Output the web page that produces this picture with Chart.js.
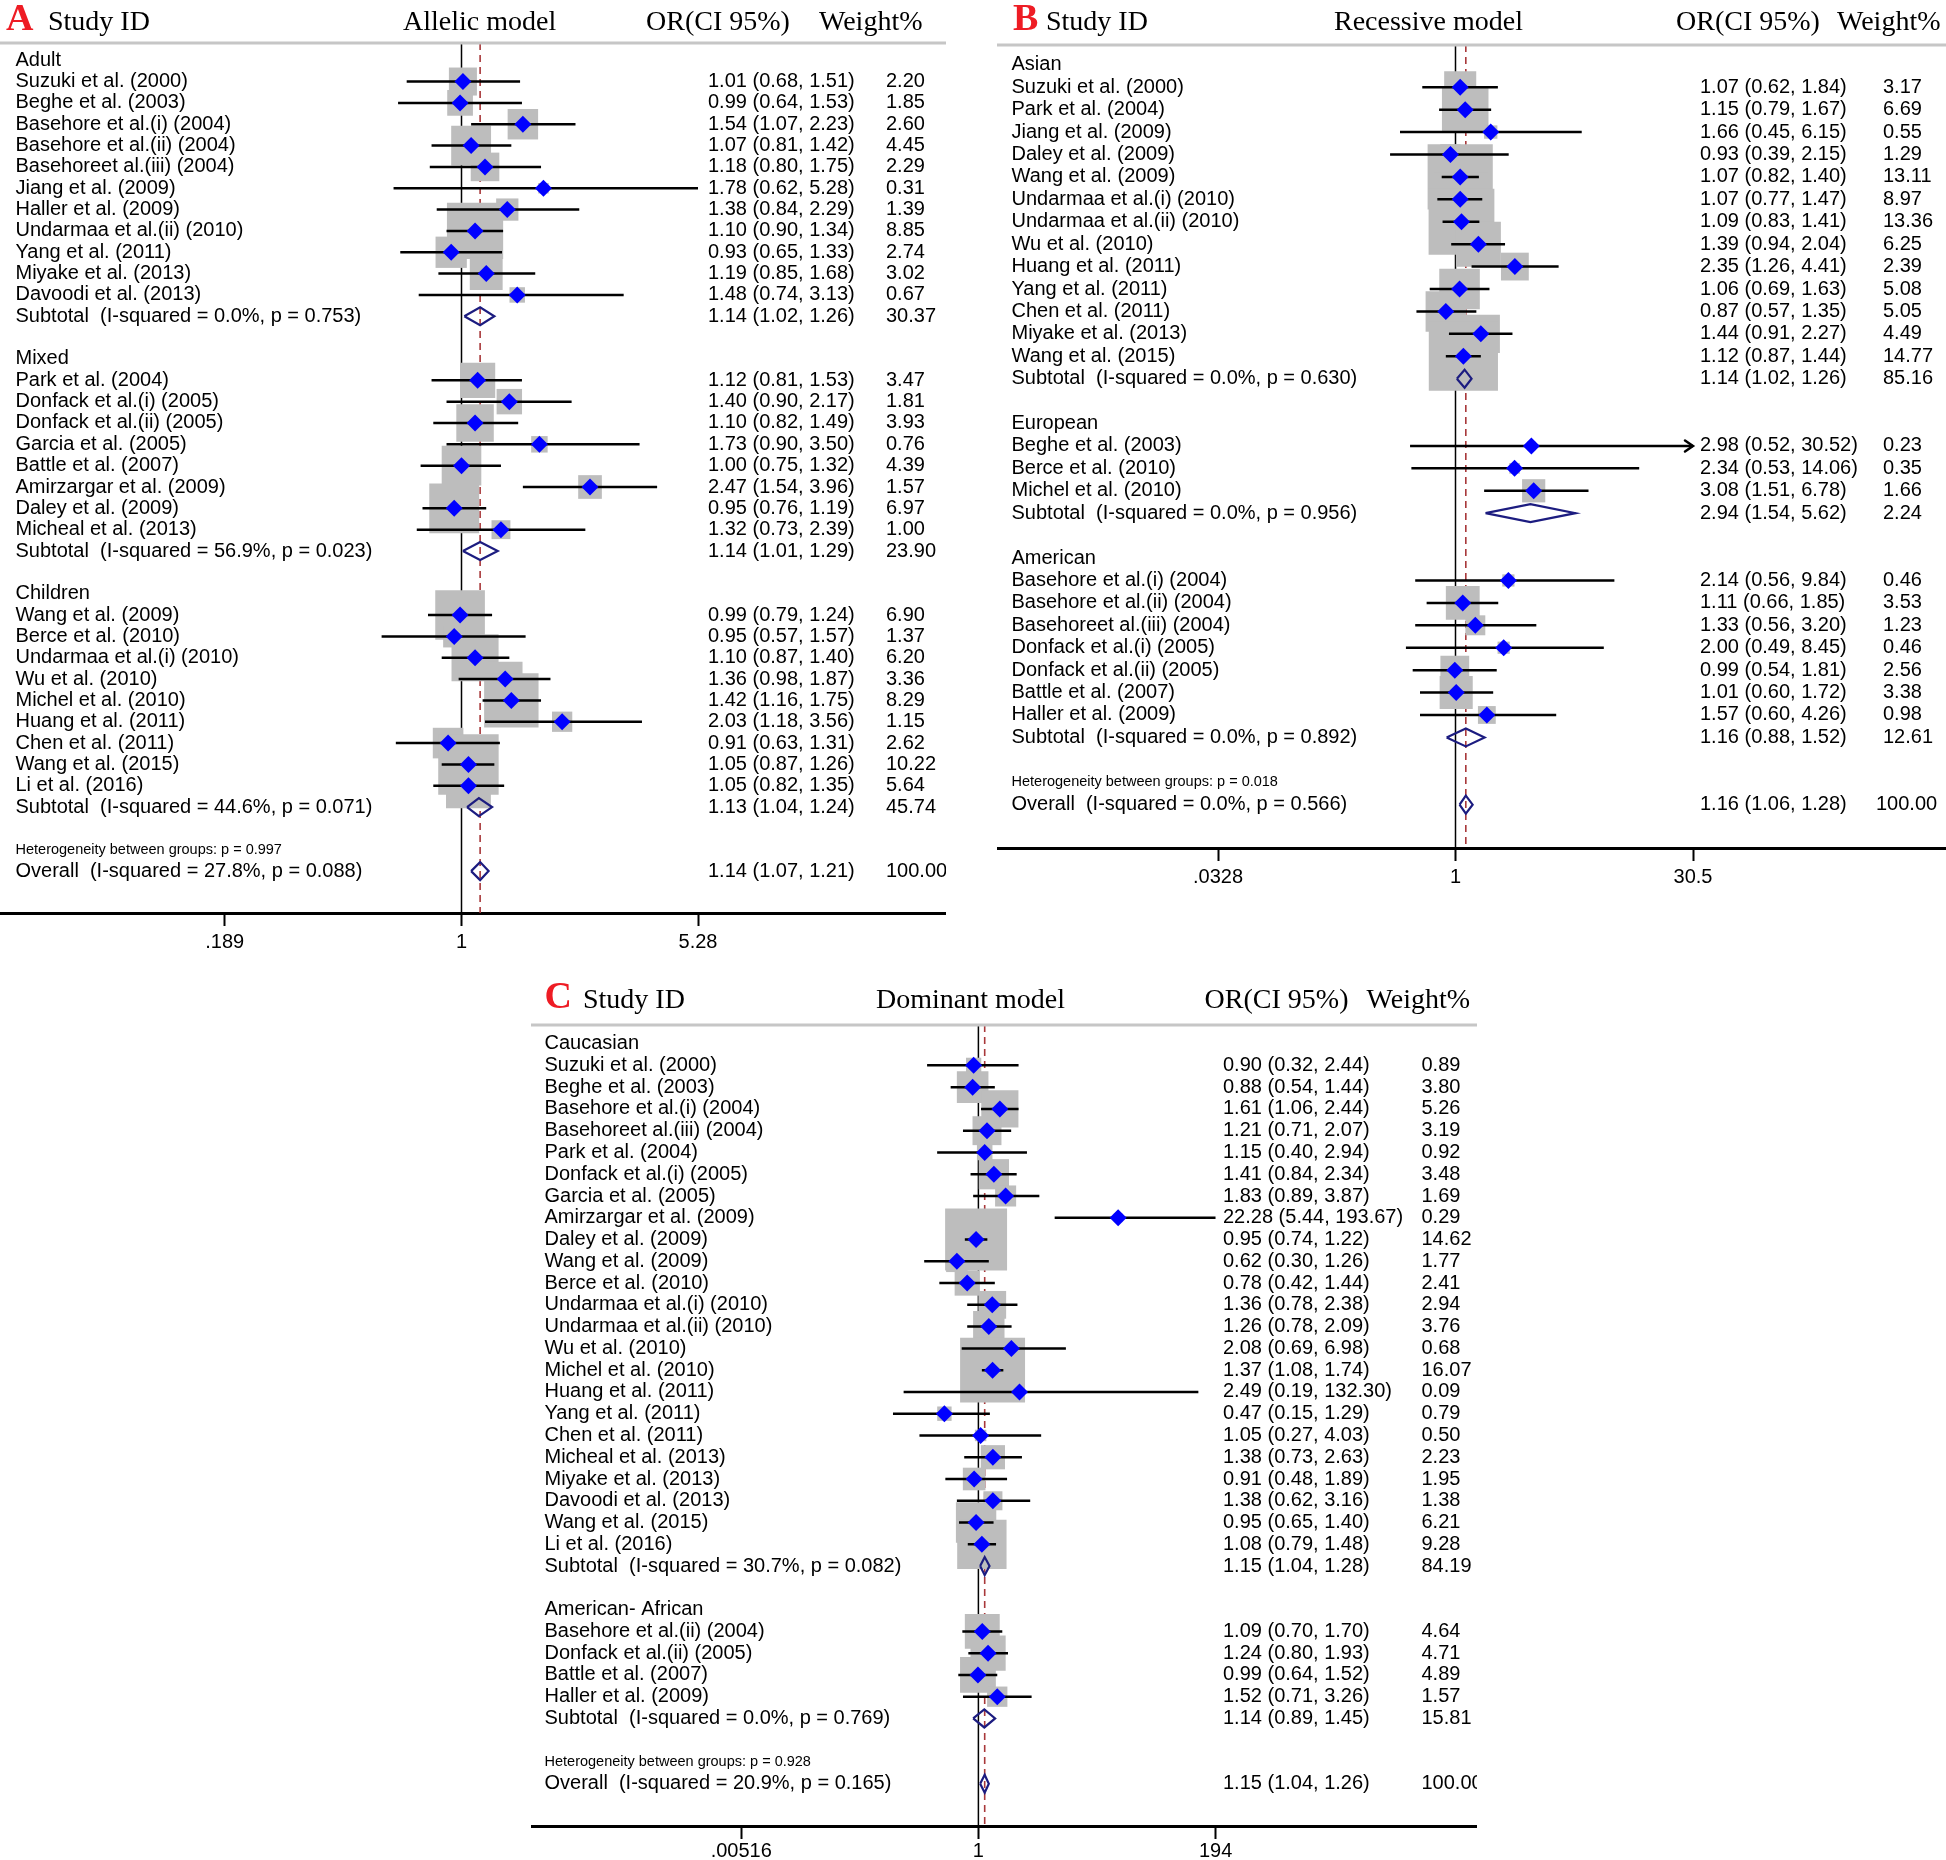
<!DOCTYPE html>
<html>
<head>
<meta charset="utf-8">
<title>Forest plots - allelic, recessive and dominant models</title>
<script src="https://cdn.jsdelivr.net/npm/chart.js@4.4.1/dist/chart.umd.min.js"></script>
<style>
  body { margin: 0; background: #fff; }
  #page { position: relative; width: 1946px; height: 1860px; overflow: hidden; background: #fff; }
  canvas { position: absolute; }
</style>
</head>
<body>
<div id="page">
  <canvas id="allelic"></canvas>
  <canvas id="recessive"></canvas>
  <canvas id="dominant"></canvas>
</div>
<script>
// ---------- A: Allelic model ----------
const allelicGroups = ['Adult', 'Mixed', 'Children'];
const allelicGroupSizes = [11, 8, 9];
const allelicStudies = [
  'Suzuki et al. (2000)', 'Beghe et al. (2003)', 'Basehore et al.(i) (2004)', 'Basehore et al.(ii) (2004)',
  'Basehoreet al.(iii) (2004)', 'Jiang et al. (2009)', 'Haller et al. (2009)', 'Undarmaa et al.(ii) (2010)',
  'Yang et al. (2011)', 'Miyake et al. (2013)', 'Davoodi et al. (2013)',
  'Park et al. (2004)', 'Donfack et al.(i) (2005)', 'Donfack et al.(ii) (2005)', 'Garcia et al. (2005)',
  'Battle et al. (2007)', 'Amirzargar et al. (2009)', 'Daley et al. (2009)', 'Micheal et al. (2013)',
  'Wang et al. (2009)', 'Berce et al. (2010)', 'Undarmaa et al.(i) (2010)', 'Wu et al. (2010)',
  'Michel et al. (2010)', 'Huang et al. (2011)', 'Chen et al. (2011)', 'Wang et al. (2015)', 'Li et al. (2016)'
];
const allelicOR = [1.01, 0.99, 1.54, 1.07, 1.18, 1.78, 1.38, 1.10, 0.93, 1.19, 1.48,
  1.12, 1.40, 1.10, 1.73, 1.00, 2.47, 0.95, 1.32,
  0.99, 0.95, 1.10, 1.36, 1.42, 2.03, 0.91, 1.05, 1.05];
const allelicLow = [0.68, 0.64, 1.07, 0.81, 0.80, 0.62, 0.84, 0.90, 0.65, 0.85, 0.74,
  0.81, 0.90, 0.82, 0.90, 0.75, 1.54, 0.76, 0.73,
  0.79, 0.57, 0.87, 0.98, 1.16, 1.18, 0.63, 0.87, 0.82];
const allelicHigh = [1.51, 1.53, 2.23, 1.42, 1.75, 5.28, 2.29, 1.34, 1.33, 1.68, 3.13,
  1.53, 2.17, 1.49, 3.50, 1.32, 3.96, 1.19, 2.39,
  1.24, 1.57, 1.40, 1.87, 1.75, 3.56, 1.31, 1.26, 1.35];
const allelicWeight = [2.20, 1.85, 2.60, 4.45, 2.29, 0.31, 1.39, 8.85, 2.74, 3.02, 0.67,
  3.47, 1.81, 3.93, 0.76, 4.39, 1.57, 6.97, 1.00,
  6.90, 1.37, 6.20, 3.36, 8.29, 1.15, 2.62, 10.22, 5.64];
const allelicSubLabels = [
  'Subtotal  (I-squared = 0.0%, p = 0.753)',
  'Subtotal  (I-squared = 56.9%, p = 0.023)',
  'Subtotal  (I-squared = 44.6%, p = 0.071)'
];
const allelicSubOR = [1.14, 1.14, 1.13];
const allelicSubLow = [1.02, 1.01, 1.04];
const allelicSubHigh = [1.26, 1.29, 1.24];
const allelicSubWeight = [30.37, 23.90, 45.74];
const allelicHet = 'Heterogeneity between groups: p = 0.997';
const allelicOverallLabel = 'Overall  (I-squared = 27.8%, p = 0.088)';
const allelicOverall = [1.14, 1.07, 1.21];
const allelicTicks = [0.189, 1, 5.28];
const allelicTickLabels = ['.189', '1', '5.28'];

// ---------- B: Recessive model ----------
const recessiveGroups = ['Asian', 'European', 'American'];
const recessiveGroupSizes = [13, 3, 7];
const recessiveStudies = [
  'Suzuki et al. (2000)', 'Park et al. (2004)', 'Jiang et al. (2009)', 'Daley et al. (2009)',
  'Wang et al. (2009)', 'Undarmaa et al.(i) (2010)', 'Undarmaa et al.(ii) (2010)', 'Wu et al. (2010)',
  'Huang et al. (2011)', 'Yang et al. (2011)', 'Chen et al. (2011)', 'Miyake et al. (2013)', 'Wang et al. (2015)',
  'Beghe et al. (2003)', 'Berce et al. (2010)', 'Michel et al. (2010)',
  'Basehore et al.(i) (2004)', 'Basehore et al.(ii) (2004)', 'Basehoreet al.(iii) (2004)',
  'Donfack et al.(i) (2005)', 'Donfack et al.(ii) (2005)', 'Battle et al. (2007)', 'Haller et al. (2009)'
];
const recessiveOR = [1.07, 1.15, 1.66, 0.93, 1.07, 1.07, 1.09, 1.39, 2.35, 1.06, 0.87, 1.44, 1.12,
  2.98, 2.34, 3.08,
  2.14, 1.11, 1.33, 2.00, 0.99, 1.01, 1.57];
const recessiveLow = [0.62, 0.79, 0.45, 0.39, 0.82, 0.77, 0.83, 0.94, 1.26, 0.69, 0.57, 0.91, 0.87,
  0.52, 0.53, 1.51,
  0.56, 0.66, 0.56, 0.49, 0.54, 0.60, 0.60];
const recessiveHigh = [1.84, 1.67, 6.15, 2.15, 1.40, 1.47, 1.41, 2.04, 4.41, 1.63, 1.35, 2.27, 1.44,
  30.52, 14.06, 6.78,
  9.84, 1.85, 3.20, 8.45, 1.81, 1.72, 4.26];
const recessiveWeight = [3.17, 6.69, 0.55, 1.29, 13.11, 8.97, 13.36, 6.25, 2.39, 5.08, 5.05, 4.49, 14.77,
  0.23, 0.35, 1.66,
  0.46, 3.53, 1.23, 0.46, 2.56, 3.38, 0.98];
const recessiveSubLabels = [
  'Subtotal  (I-squared = 0.0%, p = 0.630)',
  'Subtotal  (I-squared = 0.0%, p = 0.956)',
  'Subtotal  (I-squared = 0.0%, p = 0.892)'
];
const recessiveSubOR = [1.14, 2.94, 1.16];
const recessiveSubLow = [1.02, 1.54, 0.88];
const recessiveSubHigh = [1.26, 5.62, 1.52];
const recessiveSubWeight = [85.16, 2.24, 12.61];
const recessiveHet = 'Heterogeneity between groups: p = 0.018';
const recessiveOverallLabel = 'Overall  (I-squared = 0.0%, p = 0.566)';
const recessiveOverall = [1.16, 1.06, 1.28];
const recessiveTicks = [0.0328, 1, 30.5];
const recessiveTickLabels = ['.0328', '1', '30.5'];

// ---------- C: Dominant model ----------
const dominantGroups = ['Caucasian', 'American- African'];
const dominantGroupSizes = [23, 4];
const dominantStudies = [
  'Suzuki et al. (2000)', 'Beghe et al. (2003)', 'Basehore et al.(i) (2004)', 'Basehoreet al.(iii) (2004)',
  'Park et al. (2004)', 'Donfack et al.(i) (2005)', 'Garcia et al. (2005)', 'Amirzargar et al. (2009)',
  'Daley et al. (2009)', 'Wang et al. (2009)', 'Berce et al. (2010)', 'Undarmaa et al.(i) (2010)',
  'Undarmaa et al.(ii) (2010)', 'Wu et al. (2010)', 'Michel et al. (2010)', 'Huang et al. (2011)',
  'Yang et al. (2011)', 'Chen et al. (2011)', 'Micheal et al. (2013)', 'Miyake et al. (2013)',
  'Davoodi et al. (2013)', 'Wang et al. (2015)', 'Li et al. (2016)',
  'Basehore et al.(ii) (2004)', 'Donfack et al.(ii) (2005)', 'Battle et al. (2007)', 'Haller et al. (2009)'
];
const dominantOR = [0.90, 0.88, 1.61, 1.21, 1.15, 1.41, 1.83, 22.28, 0.95, 0.62, 0.78, 1.36, 1.26, 2.08,
  1.37, 2.49, 0.47, 1.05, 1.38, 0.91, 1.38, 0.95, 1.08,
  1.09, 1.24, 0.99, 1.52];
const dominantLow = [0.32, 0.54, 1.06, 0.71, 0.40, 0.84, 0.89, 5.44, 0.74, 0.30, 0.42, 0.78, 0.78, 0.69,
  1.08, 0.19, 0.15, 0.27, 0.73, 0.48, 0.62, 0.65, 0.79,
  0.70, 0.80, 0.64, 0.71];
const dominantHigh = [2.44, 1.44, 2.44, 2.07, 2.94, 2.34, 3.87, 193.67, 1.22, 1.26, 1.44, 2.38, 2.09, 6.98,
  1.74, 132.30, 1.29, 4.03, 2.63, 1.89, 3.16, 1.40, 1.48,
  1.70, 1.93, 1.52, 3.26];
const dominantWeight = [0.89, 3.80, 5.26, 3.19, 0.92, 3.48, 1.69, 0.29, 14.62, 1.77, 2.41, 2.94, 3.76, 0.68,
  16.07, 0.09, 0.79, 0.50, 2.23, 1.95, 1.38, 6.21, 9.28,
  4.64, 4.71, 4.89, 1.57];
const dominantSubLabels = [
  'Subtotal  (I-squared = 30.7%, p = 0.082)',
  'Subtotal  (I-squared = 0.0%, p = 0.769)'
];
const dominantSubOR = [1.15, 1.14];
const dominantSubLow = [1.04, 0.89];
const dominantSubHigh = [1.28, 1.45];
const dominantSubWeight = [84.19, 15.81];
const dominantHet = 'Heterogeneity between groups: p = 0.928';
const dominantOverallLabel = 'Overall  (I-squared = 20.9%, p = 0.165)';
const dominantOverall = [1.15, 1.04, 1.26];
const dominantTicks = [0.00516, 1, 194];
const dominantTickLabels = ['.00516', '1', '194'];

// ---------- colours ----------
const boxGray = '#bdbdbd';
const markBlue = '#0000ff';
const diamondNavy = '#1c1c80';
const refRed = '#a8383a';
const letterRed = '#ee1c24';

// where each panel sits on the page (pixels)
const layoutA = {
  left: 0, top: 0, width: 946, height: 960, lineY: 43, axisY: 913, row0: 60.2, rowH: 21.34,
  nullX: 461.5, tickGap: 236.5, tickPad: 4, boxK: 18.9, labelX: 15.5, orX: 708, wtX: 886, overallWtX: 886,
  headY: 30, head: { letter: 6, study: 48, model: 403, or: 646, wt: 819 }
};
const layoutB = {
  left: 997, top: 0, width: 949, height: 895, lineY: 45, axisY: 848, row0: 64.8, rowH: 22.42,
  nullX: 458.5, tickGap: 237.5, tickPad: 4, boxK: 18, labelX: 14.5, orX: 703, wtX: 886, overallWtX: 879,
  headY: 29.5, head: { letter: 16, study: 49, model: 337, or: 679, wt: 840 }
};
const layoutC = {
  left: 531, top: 960, width: 946, height: 900, lineY: 65, axisY: 866, row0: 83.6, rowH: 21.77,
  nullX: 447.4, tickGap: 237.2, tickPad: 0, boxK: 16.2, labelX: 13.5, orX: 692, wtX: 890.5, overallWtX: 890.5,
  headY: 48.3, head: { letter: 13.5, study: 52, model: 345, or: 673.6, wt: 835.6 }
};

// row index of every line in a panel: group title, studies, subtotal, blank
function rowsFor(sizes) {
  const groupRows = [], studyRows = [], subRows = [];
  let r = 0;
  sizes.forEach(n => {
    groupRows.push(r++);
    for (let i = 0; i < n; i++) studyRows.push(r++);
    subRows.push(r);
    r += 2;
  });
  return { groupRows, studyRows, subRows, hetRow: r, overallRow: r + 1 };
}

function orText(or, lo, hi) {
  return or.toFixed(2) + ' (' + lo.toFixed(2) + ', ' + hi.toFixed(2) + ')';
}

// open arrow head, tip in the middle of the little canvas
const arrowHead = (function() {
  const c = document.createElement('canvas');
  c.width = 24;
  c.height = 16;
  const g = c.getContext('2d');
  g.strokeStyle = '#000';
  g.lineWidth = 2.5;
  g.lineCap = 'round';
  g.beginPath();
  g.moveTo(4, 2.5);
  g.lineTo(12, 8);
  g.lineTo(4, 13.5);
  g.stroke();
  return c;
})();

function makeForest(canvasId, p, lay) {
  const canvas = document.getElementById(canvasId);
  canvas.width = lay.width;
  canvas.height = lay.height;
  canvas.style.left = lay.left + 'px';
  canvas.style.top = lay.top + 'px';
  canvas.style.width = lay.width + 'px';
  canvas.style.height = lay.height + 'px';

  const rows = rowsFor(p.sizes);
  const yMin = (lay.lineY - lay.row0) / lay.rowH;
  const yMax = (lay.axisY - lay.row0) / lay.rowH;
  const tickMin = p.ticks[0];
  const tickMax = p.ticks[p.ticks.length - 1];
  const k = lay.tickGap / Math.log(tickMax);   // pixels per ln unit
  const xMin = Math.exp(-lay.nullX / k);
  const xMax = Math.exp((lay.width - lay.nullX) / k);
  const dh = 9 / lay.rowH;                      // half height of summary diamonds

  const boxes = p.or.map((v, i) => ({ x: v, y: rows.studyRows[i] }));
  const ciLines = [];
  p.or.forEach((v, i) => {
    const r = rows.studyRows[i];
    const lo = Math.max(p.low[i], tickMin);
    const hi = Math.min(p.high[i], tickMax);
    ciLines.push({ x: lo, y: r }, { x: hi, y: r }, { x: hi, y: null });
  });
  const arrows = [];
  p.high.forEach((v, i) => {
    if (v > tickMax) arrows.push({ x: tickMax, y: rows.studyRows[i] });
  });

  const summary = [];
  function diamond(or, lo, hi, r) {
    summary.push({ x: lo, y: r }, { x: or, y: r - dh }, { x: hi, y: r }, { x: or, y: r + dh },
      { x: lo, y: r }, { x: lo, y: null });
  }
  p.subOR.forEach((v, i) => diamond(v, p.subLow[i], p.subHigh[i], rows.subRows[i]));
  diamond(p.overall[0], p.overall[1], p.overall[2], rows.overallRow);

  // all the text columns and the header
  const textPlugin = {
    id: 'forestText',
    afterDraw(chart) {
      const ctx = chart.ctx;
      const y = chart.scales.y;
      const area = chart.chartArea;
      ctx.save();

      ctx.strokeStyle = '#c6c6c6';
      ctx.lineWidth = 3;
      ctx.beginPath();
      ctx.moveTo(0, area.top);
      ctx.lineTo(chart.width, area.top);
      ctx.stroke();

      ctx.textBaseline = 'alphabetic';
      ctx.textAlign = 'left';
      ctx.fillStyle = letterRed;
      ctx.font = 'bold 38px "Liberation Serif"';
      ctx.fillText(p.letter, lay.head.letter, lay.headY);
      ctx.fillStyle = '#000';
      ctx.font = '28px "Liberation Serif"';
      ctx.fillText('Study ID', lay.head.study, lay.headY);
      ctx.fillText(p.title, lay.head.model, lay.headY);
      ctx.fillText('OR(CI 95%)', lay.head.or, lay.headY);
      ctx.fillText('Weight%', lay.head.wt, lay.headY);

      ctx.textBaseline = 'middle';
      ctx.font = '20px "Liberation Sans"';
      p.groups.forEach((g, i) => ctx.fillText(g, lay.labelX, y.getPixelForValue(rows.groupRows[i])));
      p.studies.forEach((s, i) => {
        const py = y.getPixelForValue(rows.studyRows[i]);
        ctx.fillText(s, lay.labelX, py);
        ctx.fillText(orText(p.or[i], p.low[i], p.high[i]), lay.orX, py);
        ctx.fillText(p.weight[i].toFixed(2), lay.wtX, py);
      });
      p.subLabels.forEach((s, i) => {
        const py = y.getPixelForValue(rows.subRows[i]);
        ctx.fillText(s, lay.labelX, py);
        ctx.fillText(orText(p.subOR[i], p.subLow[i], p.subHigh[i]), lay.orX, py);
        ctx.fillText(p.subWeight[i].toFixed(2), lay.wtX, py);
      });
      const oy = y.getPixelForValue(rows.overallRow);
      ctx.fillText(p.overallLabel, lay.labelX, oy);
      ctx.fillText(orText(p.overall[0], p.overall[1], p.overall[2]), lay.orX, oy);
      ctx.fillText((100).toFixed(2), lay.overallWtX, oy);

      ctx.font = '14.5px "Liberation Sans"';
      ctx.fillText(p.het, lay.labelX, y.getPixelForValue(rows.hetRow));
      ctx.restore();
    }
  };

  new Chart(canvas, {
    type: 'scatter',
    data: {
      datasets: [
        {
          // line of no effect
          data: [{ x: 1, y: yMin }, { x: 1, y: yMax }],
          showLine: true, borderColor: '#000', borderWidth: 1.5, pointRadius: 0, order: 7
        },
        {
          // pooled estimate
          data: [{ x: p.overall[0], y: yMin }, { x: p.overall[0], y: yMax }],
          showLine: true, borderColor: refRed, borderWidth: 1.6, borderDash: [7, 5],
          pointRadius: 0, order: 6
        },
        {
          // study weight boxes
          data: boxes,
          pointStyle: 'rect',
          pointRadius: ctx => lay.boxK * Math.sqrt(p.weight[ctx.dataIndex]) / Math.SQRT2,
          backgroundColor: boxGray, borderWidth: 0, order: 5
        },
        {
          // confidence intervals
          data: ciLines,
          showLine: true, spanGaps: false, borderColor: '#000', borderWidth: 2.5,
          pointRadius: 0, order: 3
        },
        {
          // subtotal and overall diamonds
          data: summary,
          showLine: true, spanGaps: false, borderColor: diamondNavy, borderWidth: 2.2,
          pointRadius: 0, order: 2
        },
        {
          // point estimates
          data: boxes,
          pointStyle: 'rectRot', pointRadius: 8.5,
          backgroundColor: markBlue, borderWidth: 0, order: 1
        },
        {
          // intervals running off the axis
          data: arrows,
          pointStyle: arrowHead, pointRadius: 8, order: 1
        }
      ]
    },
    options: {
      responsive: false,
      animation: false,
      events: [],
      layout: { autoPadding: false, padding: { top: lay.lineY, left: 0, right: 0, bottom: 0 } },
      elements: { line: { tension: 0 }, point: { hoverRadius: 0 } },
      plugins: { legend: { display: false }, tooltip: { enabled: false } },
      scales: {
        x: {
          type: 'logarithmic',
          min: xMin,
          max: xMax,
          bounds: 'data',
          afterBuildTicks: scale => { scale.ticks = p.ticks.map(v => ({ value: v })); },
          afterFit: scale => { scale.height = lay.height - lay.axisY; },
          ticks: {
            autoSkip: false, maxRotation: 0, padding: lay.tickPad, color: '#000',
            font: { family: 'Liberation Sans', size: 20 },
            callback: (value, index) => p.tickLabels[index]
          },
          grid: { drawOnChartArea: false, drawTicks: true, tickLength: 13, tickWidth: 2, tickColor: '#000', color: '#000' },
          border: { display: true, color: '#000', width: 3 }
        },
        y: { type: 'linear', reverse: true, min: yMin, max: yMax, display: false }
      }
    },
    plugins: [textPlugin]
  });
}

makeForest('allelic', {
  letter: 'A', title: 'Allelic model',
  groups: allelicGroups, sizes: allelicGroupSizes, studies: allelicStudies,
  or: allelicOR, low: allelicLow, high: allelicHigh, weight: allelicWeight,
  subLabels: allelicSubLabels, subOR: allelicSubOR, subLow: allelicSubLow, subHigh: allelicSubHigh,
  subWeight: allelicSubWeight, het: allelicHet, overallLabel: allelicOverallLabel, overall: allelicOverall,
  ticks: allelicTicks, tickLabels: allelicTickLabels
}, layoutA);

makeForest('recessive', {
  letter: 'B', title: 'Recessive model',
  groups: recessiveGroups, sizes: recessiveGroupSizes, studies: recessiveStudies,
  or: recessiveOR, low: recessiveLow, high: recessiveHigh, weight: recessiveWeight,
  subLabels: recessiveSubLabels, subOR: recessiveSubOR, subLow: recessiveSubLow, subHigh: recessiveSubHigh,
  subWeight: recessiveSubWeight, het: recessiveHet, overallLabel: recessiveOverallLabel, overall: recessiveOverall,
  ticks: recessiveTicks, tickLabels: recessiveTickLabels
}, layoutB);

makeForest('dominant', {
  letter: 'C', title: 'Dominant model',
  groups: dominantGroups, sizes: dominantGroupSizes, studies: dominantStudies,
  or: dominantOR, low: dominantLow, high: dominantHigh, weight: dominantWeight,
  subLabels: dominantSubLabels, subOR: dominantSubOR, subLow: dominantSubLow, subHigh: dominantSubHigh,
  subWeight: dominantSubWeight, het: dominantHet, overallLabel: dominantOverallLabel, overall: dominantOverall,
  ticks: dominantTicks, tickLabels: dominantTickLabels
}, layoutC);
</script>
</body>
</html>
